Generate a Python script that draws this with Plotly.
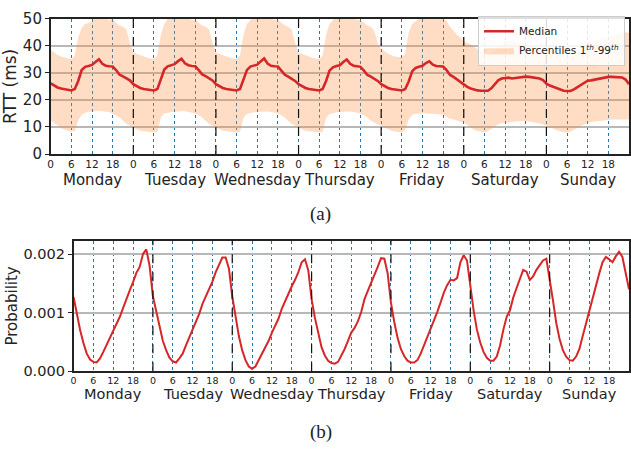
import plotly.graph_objects as go

DAYS = ["Monday", "Tuesday", "Wednesday", "Thursday", "Friday", "Saturday", "Sunday"]
HOUR_TICK_LABELS = ["0", "6", "12", "18"]

# (a) RTT median (ms), hourly, Monday 00h .. Sunday 24h
rtt_median = (
    [26.1, 25.2, 24.6, 24.2, 24.0, 23.7, 23.5, 24.0, 27.0, 31.0, 32.2, 32.5, 32.9, 34.0, 35.0, 33.3, 32.6, 32.4, 32.3, 31.0, 29.3, 28.7, 28.0, 27.2]
    + [25.8, 25.0, 24.4, 24.0, 23.8, 23.6, 23.5, 24.0, 27.3, 31.2, 32.4, 32.8, 33.2, 34.3, 35.2, 33.5, 32.8, 32.5, 32.4, 31.0, 29.4, 28.8, 28.0, 27.2]
    + [25.8, 25.0, 24.4, 24.0, 23.8, 23.6, 23.5, 24.0, 27.2, 31.0, 32.3, 32.7, 33.0, 34.2, 35.3, 33.4, 32.6, 32.4, 32.3, 30.8, 29.3, 28.6, 27.9, 27.0]
    + [25.8, 25.0, 24.4, 24.0, 23.8, 23.6, 23.5, 24.0, 27.0, 30.8, 32.0, 32.5, 32.8, 34.0, 34.9, 33.3, 32.6, 32.4, 32.2, 30.8, 29.2, 28.6, 27.8, 27.0]
    + [25.8, 25.0, 24.4, 24.0, 23.8, 23.6, 23.5, 24.0, 26.8, 30.5, 31.8, 32.2, 32.6, 33.6, 34.2, 33.0, 32.5, 32.4, 32.3, 31.0, 29.2, 28.5, 27.6, 26.6]
    + [25.6, 24.8, 24.2, 23.8, 23.5, 23.4, 23.3, 23.4, 24.3, 25.8, 27.2, 27.9, 28.1, 28.2, 27.9, 28.1, 28.3, 28.4, 28.6, 28.5, 28.3, 28.1, 27.9, 27.3]
    + [26.0, 25.3, 24.8, 24.2, 23.7, 23.4, 23.3, 23.3, 23.9, 24.7, 25.6, 26.6, 27.1, 27.2, 27.5, 27.8, 28.0, 28.3, 28.5, 28.5, 28.5, 28.4, 28.3, 27.5]
    + [25.8]
)

# (a) RTT 99th percentile (ms)
rtt_p99 = (
    [38.5, 37.5, 36.6, 36.0, 35.6, 35.3, 35.0, 36.5, 43.0, 46.5, 48.0, 48.5, 49.0, 51.0, 51.0, 51.0, 50.0, 49.5, 50.0, 48.5, 47.5, 47.0, 46.0, 41.0]
    + [37.5, 37.0, 36.4, 36.0, 35.6, 35.3, 35.0, 36.5, 44.0, 48.0, 50.0, 51.0, 51.0, 51.5, 51.0, 50.5, 50.0, 49.5, 49.5, 48.5, 47.5, 47.0, 46.0, 41.0]
    + [37.5, 37.0, 36.4, 36.0, 35.6, 35.3, 35.0, 36.5, 44.0, 48.0, 49.5, 50.5, 51.0, 51.5, 51.0, 50.5, 50.0, 49.5, 49.5, 48.5, 47.5, 47.0, 46.0, 41.0]
    + [37.5, 37.0, 36.4, 36.0, 35.6, 35.3, 35.0, 36.5, 44.0, 48.0, 49.5, 50.5, 51.0, 51.5, 51.0, 50.5, 50.0, 49.5, 49.5, 48.5, 47.5, 47.0, 45.5, 41.0]
    + [38.8, 38.0, 37.0, 36.5, 36.0, 35.8, 35.8, 37.0, 45.0, 48.0, 49.0, 50.0, 50.5, 51.0, 51.0, 51.0, 50.5, 50.0, 50.0, 49.0, 47.0, 45.5, 44.0, 43.0]
    + [41.7, 41.0, 40.5, 39.5, 38.8, 38.0, 37.0, 37.0, 37.0, 38.0, 39.4, 40.5, 41.7, 41.7, 41.7, 41.3, 41.0, 40.7, 40.5, 40.2, 40.0, 39.5, 38.8, 38.2]
    + [37.6, 37.3, 37.0, 36.7, 36.4, 36.0, 35.8, 36.0, 36.4, 37.5, 38.8, 39.8, 40.5, 41.0, 41.7, 42.2, 42.9, 43.2, 43.5, 43.8, 44.0, 44.5, 45.0, 45.0]
    + [44.7]
)

# (a) RTT 1st percentile (ms)
rtt_p1 = (
    [12.5, 11.5, 10.5, 9.6, 9.0, 8.6, 8.2, 8.5, 12.5, 14.5, 15.3, 15.6, 15.6, 15.8, 16.0, 15.8, 15.6, 15.5, 15.0, 14.3, 13.5, 12.3, 11.2, 10.5]
    + [9.7, 9.2, 8.6, 8.4, 8.2, 8.1, 8.0, 8.2, 13.5, 15.0, 15.3, 15.5, 15.6, 15.8, 15.9, 15.8, 15.6, 15.4, 15.0, 14.3, 13.5, 12.3, 11.2, 10.5]
    + [9.7, 9.2, 8.6, 8.4, 8.2, 8.1, 8.0, 8.2, 13.3, 14.8, 15.2, 15.4, 15.5, 15.6, 15.8, 15.7, 15.5, 15.3, 15.0, 14.3, 13.5, 12.3, 11.2, 10.5]
    + [9.7, 9.2, 8.6, 8.4, 8.2, 8.1, 8.0, 8.2, 13.3, 14.8, 15.2, 15.4, 15.5, 15.6, 15.8, 15.7, 15.5, 15.3, 15.0, 14.3, 13.5, 12.3, 11.5, 11.0]
    + [10.5, 9.8, 9.0, 8.6, 8.3, 8.1, 8.0, 9.0, 12.8, 14.5, 14.9, 15.0, 15.1, 15.1, 15.0, 15.0, 14.8, 14.6, 14.5, 13.8, 13.0, 12.8, 12.3, 12.0]
    + [11.6, 10.8, 9.8, 9.0, 8.5, 8.2, 8.0, 8.4, 9.2, 10.0, 11.0, 11.4, 11.6, 11.8, 12.0, 12.0, 12.1, 12.2, 12.2, 12.0, 11.8, 11.6, 11.4, 11.0]
    + [10.4, 9.8, 9.2, 8.7, 8.3, 8.1, 8.0, 8.2, 8.8, 9.6, 10.4, 11.0, 11.6, 11.8, 12.0, 12.2, 12.4, 12.6, 12.8, 12.8, 12.8, 12.8, 12.8, 12.8]
    + [12.8]
)

# (b) Probability, hourly
probability = (
    [0.00127, 0.00098, 0.00070, 0.00048, 0.00030, 0.00020, 0.00016, 0.00015, 0.00022, 0.00033, 0.00045, 0.00058, 0.00070, 0.00080, 0.00093, 0.00108, 0.00124, 0.00138, 0.00152, 0.00168, 0.00178, 0.00200, 0.00208, 0.00180]
    + [0.00128, 0.00104, 0.00077, 0.00052, 0.00036, 0.00023, 0.00017, 0.00015, 0.00022, 0.00030, 0.00044, 0.00057, 0.00071, 0.00082, 0.00098, 0.00115, 0.00128, 0.00139, 0.00153, 0.00169, 0.00183, 0.00194, 0.00194, 0.00175]
    + [0.00128, 0.00093, 0.00060, 0.00036, 0.00019, 0.00008, 0.00004, 0.00008, 0.00019, 0.00030, 0.00041, 0.00052, 0.00066, 0.00077, 0.00090, 0.00107, 0.00120, 0.00134, 0.00145, 0.00156, 0.00169, 0.00186, 0.00191, 0.00172]
    + [0.00123, 0.00091, 0.00063, 0.00041, 0.00027, 0.00018, 0.00014, 0.00013, 0.00016, 0.00026, 0.00038, 0.00052, 0.00066, 0.00074, 0.00085, 0.00101, 0.00123, 0.00137, 0.00150, 0.00164, 0.00178, 0.00193, 0.00192, 0.00167]
    + [0.00117, 0.00084, 0.00057, 0.00038, 0.00026, 0.00018, 0.00015, 0.00015, 0.00019, 0.00030, 0.00044, 0.00057, 0.00074, 0.00087, 0.00101, 0.00117, 0.00134, 0.00147, 0.00156, 0.00155, 0.00159, 0.00186, 0.00198, 0.00189]
    + [0.00145, 0.00104, 0.00071, 0.00049, 0.00033, 0.00023, 0.00018, 0.00018, 0.00025, 0.00044, 0.00071, 0.00093, 0.00104, 0.00126, 0.00142, 0.00159, 0.00173, 0.00170, 0.00156, 0.00162, 0.00173, 0.00181, 0.00189, 0.00192]
    + [0.00159, 0.00121, 0.00082, 0.00055, 0.00036, 0.00025, 0.00019, 0.00018, 0.00025, 0.00038, 0.00060, 0.00082, 0.00104, 0.00126, 0.00148, 0.00167, 0.00186, 0.00195, 0.00191, 0.00186, 0.00196, 0.00204, 0.00195, 0.00170]
    + [0.00140]
)

hours = list(range(len(rtt_median)))
n_days = len(DAYS)
tick_vals = list(range(0, 24 * n_days + 1, 6))
tick_text = [HOUR_TICK_LABELS[(v // 6) % 4] for v in tick_vals]

RED = "#d62728"
FONT = "DejaVu Sans"
INK = "#222222"

fig = go.Figure()
fig.add_trace(go.Scatter(x=hours, y=rtt_p1, mode="lines", line=dict(width=0, color="rgba(0,0,0,0)"),
                         showlegend=False, hoverinfo="skip", xaxis="x", yaxis="y"))
fig.add_trace(go.Scatter(x=hours, y=rtt_p99, mode="lines", line=dict(width=0, color="rgba(0,0,0,0)"),
                         fill="tonexty", fillcolor="rgba(252,141,60,0.3)",
                         name="Percentiles 1<sup><i>th</i></sup>-99<sup><i>th</i></sup>", xaxis="x", yaxis="y"))
fig.add_trace(go.Scatter(x=hours, y=rtt_median, mode="lines", line=dict(width=2.6, color=RED),
                         name="Median", xaxis="x", yaxis="y"))
fig.add_trace(go.Scatter(x=hours, y=probability, mode="lines", line=dict(width=2, color=RED),
                         showlegend=False, xaxis="x2", yaxis="y2"))


def x_axis(domain, anchor, tick_size):
    return dict(domain=domain, anchor=anchor, range=[0, 24 * n_days], tickmode="array",
                tickvals=tick_vals, ticktext=tick_text,
                showgrid=True, gridcolor="#1f77b4", griddash="dot", gridwidth=1,
                showline=True, linecolor=INK, linewidth=1.5, mirror=True,
                ticks="", zeroline=False, ticklabelstandoff=0,
                tickfont=dict(family=FONT, size=tick_size, color=INK))


common_y = dict(showgrid=True, gridcolor="#b8b8b8", gridwidth=1.5,
                showline=True, linecolor=INK, linewidth=1.5, mirror=True,
                ticks="outside", ticklen=4, tickcolor=INK, zeroline=False)

fig.update_layout(
    width=631, height=460,
    margin=dict(l=0, r=0, t=0, b=0),
    paper_bgcolor="white", plot_bgcolor="white",
    xaxis=x_axis([48 / 631, 630 / 631], "y", 10.5),
    yaxis=dict(domain=[1 - 151 / 460, 1 - 10 / 460], anchor="x", range=[0, 50], dtick=10,
               tickfont=dict(family=FONT, size=15, color=INK),
               title=dict(text="RTT (ms)", font=dict(family=FONT, size=17, color=INK), standoff=2),
               **common_y),
    xaxis2=x_axis([71 / 631, 630 / 631], "y2", 9.5),
    yaxis2=dict(domain=[1 - 377 / 460, 1 - 241 / 460], anchor="x2", range=[0, 0.00223],
                tickvals=[0, 0.001, 0.002], tickformat=".3f",
                tickfont=dict(family=FONT, size=14.5, color=INK),
                title=dict(text="Probability", font=dict(family=FONT, size=15, color=INK), standoff=2),
                **common_y),
    legend=dict(x=626 / 631, xanchor="right", y=1 - 7 / 460, yanchor="top",
                bgcolor="rgba(255,255,255,0.85)", bordercolor="#cccccc", borderwidth=1,
                font=dict(family=FONT, size=10.5, color=INK), tracegroupgap=0,
                traceorder="reversed", itemwidth=30),
    showlegend=True,
)

shapes = []
annotations = []
for i, day in enumerate(DAYS):
    if i > 0:
        for xr, yr in (("x", "y domain"), ("x2", "y2 domain")):
            shapes.append(dict(type="line", xref=xr, yref=yr, x0=24 * i, x1=24 * i, y0=0, y1=1,
                               line=dict(color="#111", width=1.2, dash="dash")))
    annotations.append(dict(text=day, xref="x", yref="paper", x=24 * i + 12, y=1 - 178 / 460,
                            yanchor="middle", showarrow=False,
                            font=dict(family=FONT, size=15, color=INK)))
    annotations.append(dict(text=day, xref="x2", yref="paper", x=24 * i + 12, y=1 - 401 / 460,
                            yanchor="middle", showarrow=False,
                            font=dict(family=FONT, size=14.5, color=INK)))

annotations.append(dict(text="(a)", xref="paper", yref="paper", x=320 / 631, y=1 - 213 / 460,
                        yanchor="middle", showarrow=False,
                        font=dict(family="Liberation Serif", size=19, color=INK)))
annotations.append(dict(text="(b)", xref="paper", yref="paper", x=320 / 631, y=1 - 440 / 460,
                        yanchor="middle", showarrow=False,
                        font=dict(family="Liberation Serif", size=19, color=INK)))

fig.update_layout(shapes=shapes, annotations=annotations)
fig.write_html("out.html")
